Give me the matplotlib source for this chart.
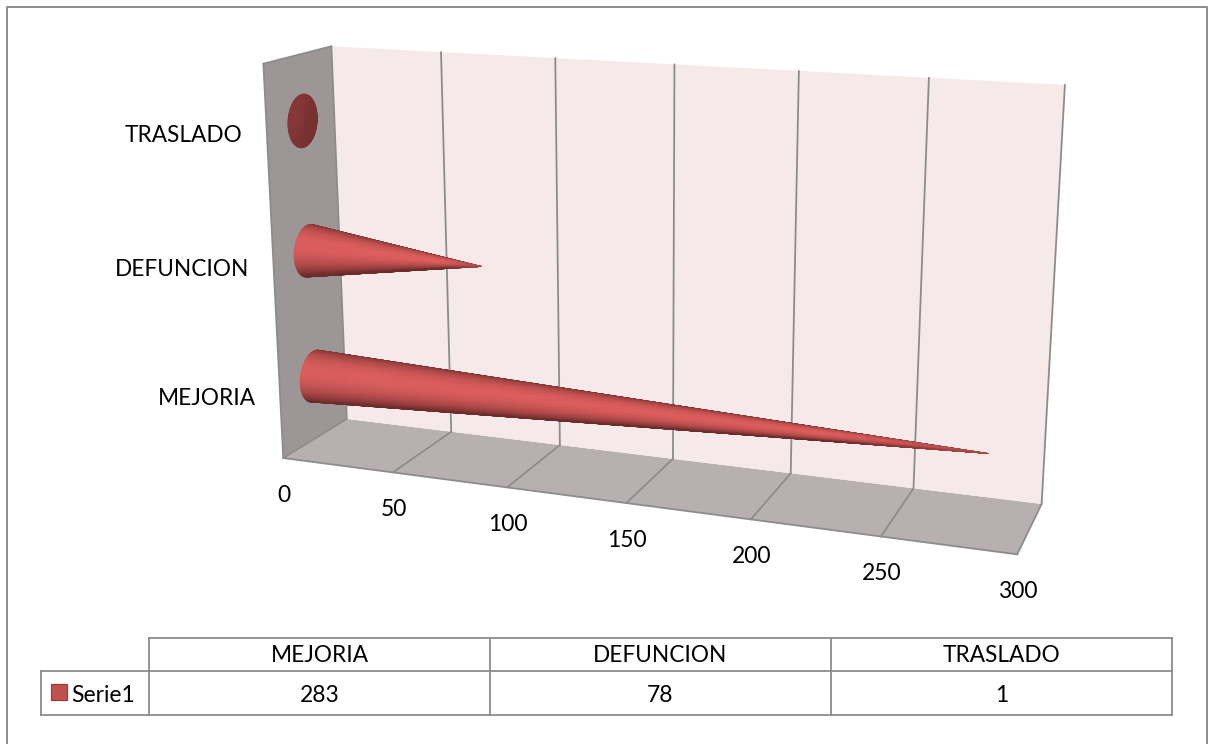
import numpy as np
import matplotlib
matplotlib.use("Agg")
import matplotlib.pyplot as plt
from matplotlib.collections import PolyCollection
from matplotlib.patches import Polygon, Rectangle

plt.rcParams['font.family'] = ['Lato', 'DejaVu Sans']

# Chart data
categories = ["MEJORIA", "DEFUNCION", "TRASLADO"]
values = [283, 78, 1]
series_name = "Serie1"
axis_ticks = [0, 50, 100, 150, 200, 250, 300]

W, H = 1209, 744
LINE = "#8c8c8c"
VMAX = axis_ticks[-1]

fig = plt.figure(figsize=(W / 100, H / 100), dpi=100)
ax = fig.add_axes([0, 0, 1, 1])
ax.set_xlim(0, W)
ax.set_ylim(H, 0)
ax.axis("off")

# Camera calibration: box points (value, depth, height) -> screen position
box_world = np.array([
    [0, 0, 0], [300, 0, 0], [0, 1, 0], [300, 1, 0],
    [0, 0, 1], [0, 1, 1], [300, 1, 1],
    [150, 0, 0], [150, 1, 0], [150, 1, 1],
    [50, 0, 0], [250, 0, 0], [50, 1, 1], [250, 1, 1],
], dtype=float)
box_screen = np.array([
    [283, 458], [1017, 554], [347, 419], [1042, 504],
    [263, 64], [332, 46], [1065, 85],
    [627, 504], [672, 459], [674, 64],
    [393, 472], [881, 536], [441, 52], [929, 78],
], dtype=float)


def fit_camera(world, screen):
    scaled = world * [1 / VMAX, 1, 1]
    rows = []
    for (a, b, c), (x, y) in zip(scaled, screen):
        rows.append([a, b, c, 1, 0, 0, 0, 0, -x * a, -x * b, -x * c, -x])
        rows.append([0, 0, 0, 0, a, b, c, 1, -y * a, -y * b, -y * c, -y])
    _, _, vt = np.linalg.svd(np.array(rows))
    return vt[-1].reshape(3, 4)


CAM = fit_camera(box_world, box_screen)


def project(v, d, h):
    v, d, h = np.broadcast_arrays(np.asarray(v, float), np.asarray(d, float), np.asarray(h, float))
    pts = np.stack([v / VMAX, d, h, np.ones_like(v)], axis=-1) @ CAM.T
    return pts[..., 0] / pts[..., 2], pts[..., 1] / pts[..., 2]


def face(points, color, z):
    xs, ys = project(*np.array(points, dtype=float).T)
    ax.add_patch(Polygon(np.column_stack([xs, ys]), closed=True, fc=color, ec="none", zorder=z))


def edge(p0, p1, z=3, lw=1.3):
    xs, ys = project(*np.array([p0, p1], dtype=float).T)
    ax.plot(xs, ys, color=LINE, lw=lw, zorder=z, solid_capstyle="round")


# Chart frame (no bottom line, it runs off the canvas)
ax.plot([7, 7, 1207, 1207], [H, 6.5, 6.5, H], color=LINE, lw=1.4, zorder=1)

# Walls and floor
face([(0, 0, 0), (0, 1, 0), (0, 1, 1), (0, 0, 1)], "#9c9696", 2)
face([(0, 1, 0), (VMAX, 1, 0), (VMAX, 0, 0), (0, 0, 0)], "#b8b0b0", 2)
face([(0, 1, 0), (VMAX, 1, 0), (VMAX, 1, 1), (0, 1, 1)], "#f5e9e9", 2)

# Gridlines on the floor and back wall
for t in axis_ticks:
    edge((t, 0, 0), (t, 1, 0))
    edge((t, 1, 0), (t, 1, 1))
edge((0, 0, 0), (VMAX, 0, 0))
edge((0, 0, 0), (0, 0, 1))
edge((0, 0, 1), (0, 1, 1))


def draw_cone(value, h_center, rd=0.22, rh=0.067, d_center=0.52):
    us = np.concatenate([np.linspace(0, 0.9, 30), np.linspace(0.9, 1, 6)[1:]])
    thetas = np.linspace(0, 2 * np.pi, 181)
    uu, tt = np.meshgrid(us, thetas, indexing="ij")
    xs, ys = project(value * uu, d_center + rd * (1 - uu) * np.cos(tt), h_center + rh * (1 - uu) * np.sin(tt))

    quads = np.stack([
        np.stack([xs[:-1, :-1], ys[:-1, :-1]], -1),
        np.stack([xs[:-1, 1:], ys[:-1, 1:]], -1),
        np.stack([xs[1:, 1:], ys[1:, 1:]], -1),
        np.stack([xs[1:, :-1], ys[1:, :-1]], -1),
    ], axis=2)
    qx, qy = quads[..., 0], quads[..., 1]
    area = 0.5 * np.sum(qx * np.roll(qy, -1, axis=2) - np.roll(qx, -1, axis=2) * qy, axis=2)
    facing = np.sign(area[0, 90])

    # Lambert shading, the axial part of the normal grows as the cone gets shorter
    mid = 0.5 * (tt[:-1, :-1] + tt[1:, 1:])
    umid = 0.5 * (uu[:-1, :-1] + uu[1:, 1:])
    axial = 27.0 / (value * 2.5)
    norm = np.sqrt(1 + axial ** 2)
    light = np.array([0.25, -0.86, 0.49])
    shade = (axial * light[0] + np.cos(mid) * light[1] + np.sin(mid) * light[2]) / norm
    shade = np.clip(shade, 0, 1) ** 1.35

    # The thin end of a long cone washes out to a flat red
    if value > 10:
        tip = np.clip((umid - 0.8) / 0.2, 0, 1)
        shade = shade * (1 - tip) + 0.6 * tip

    dark = np.array([0x6c, 0x2c, 0x2c]) / 255
    bright = np.array([0xdb, 0x5d, 0x5c]) / 255
    colors = dark + shade[..., None] * (bright - dark)

    keep = area * facing > 0
    coll = PolyCollection(quads[keep], facecolors=colors[keep], edgecolors="face", linewidths=0.45, zorder=5)
    ax.add_collection(coll)


# One cone per category, centred on its band of the wall height
for i, (cat, val) in enumerate(zip(categories, values)):
    h_center = (i + 0.5) / len(categories)
    draw_cone(val, h_center)
    lx, ly = project(0, 0, h_center)
    ax.text(lx - 24, ly + 3, cat, ha="right", va="center", fontsize=16.3, color="black", zorder=6)

# Value axis labels under the front edge of the floor
for t in axis_ticks:
    tx, ty = project(t, 0, 0)
    ax.text(tx + 1, ty + 37.5, str(t), ha="center", va="center", fontsize=16.5, color="black", zorder=6)

# Data table below the plot
col_edges = [149, 490, 831, 1172]
row_edges = [638, 670.5, 714.5]
key_left = 41
ax.plot([col_edges[0], col_edges[-1]], [row_edges[0]] * 2, color=LINE, lw=1.3, zorder=3)
ax.plot([key_left, col_edges[-1]], [row_edges[1]] * 2, color=LINE, lw=1.3, zorder=3)
ax.plot([key_left, col_edges[-1]], [row_edges[2]] * 2, color=LINE, lw=1.3, zorder=3)
ax.plot([key_left, key_left], row_edges[1:], color=LINE, lw=1.3, zorder=3)
for x in col_edges:
    ax.plot([x, x], [row_edges[0], row_edges[2]], color=LINE, lw=1.3, zorder=3)

for i, (cat, val) in enumerate(zip(categories, values)):
    cx = 0.5 * (col_edges[i] + col_edges[i + 1])
    ax.text(cx, 656, cat, ha="center", va="center", fontsize=16.3, color="black")
    ax.text(cx, 695, str(val), ha="center", va="center", fontsize=16.5, color="black")

ax.add_patch(Rectangle((51, 683.5), 16, 16, fc="#c0504d", ec="#a03c3a", lw=0.9, zorder=4))
ax.text(71, 695, series_name, ha="left", va="center", fontsize=16.5, color="black")

fig.savefig("out.png", dpi=100, facecolor="white")
